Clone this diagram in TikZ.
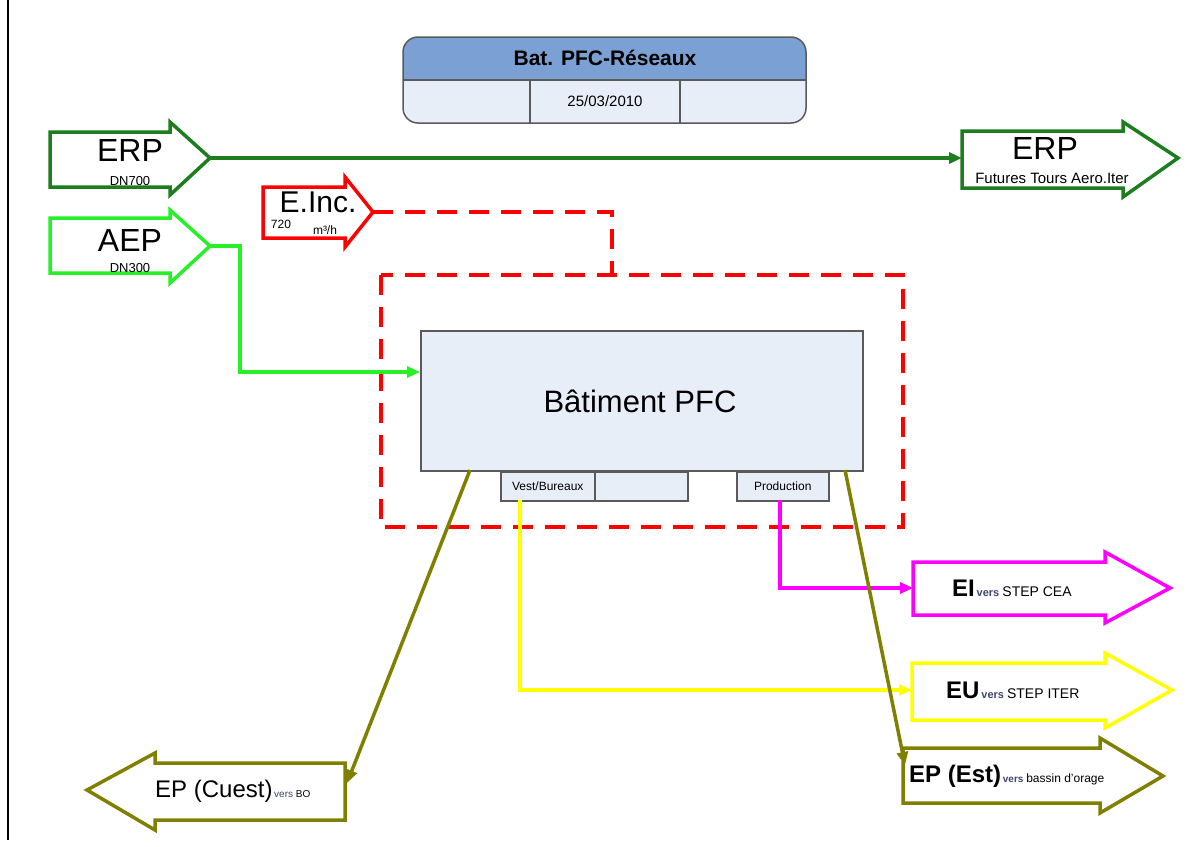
\documentclass[tikz,border=0pt]{standalone}
\usepackage{fontspec}
\setmainfont{Liberation Sans}
\usetikzlibrary{arrows.meta}
\definecolor{dkgreen}{RGB}{30,125,30}
\definecolor{ltgreen}{RGB}{40,240,40}
\definecolor{olive}{RGB}{128,128,0}
\definecolor{pmagenta}{RGB}{255,0,255}
\definecolor{pyellow}{RGB}{255,255,0}
\definecolor{pred}{RGB}{255,0,0}
\definecolor{hdrblue}{RGB}{123,160,212}
\definecolor{ltfill}{RGB}{232,238,248}
\definecolor{bordergray}{RGB}{90,90,90}
\definecolor{versblue}{RGB}{60,70,110}
\newcommand{\fs}[1]{\fontsize{#1}{#1}\selectfont}
\begin{document}
\begin{tikzpicture}[x=1pt,y=-1pt,
  outline/.style={line width=3.5pt,line join=miter,fill=white,draw=#1},
  conn/.style={line width=3.5pt,draw=#1,-{Triangle[length=13pt,width=11pt,fill=#1]}},
  txt/.style={inner sep=0pt,text=black},
  boxed/.style={draw=bordergray,fill=ltfill,line width=1.5pt}]
\useasboundingbox (0,0) rectangle (1190,846);
\fill[white] (0,0) rectangle (1190,846);
% left margin line
\draw[line width=1.5pt] (8,0) -- (8,840);

% title block
\fill[ltfill,rounded corners=15pt] (403,37) rectangle (806,123);
\fill[hdrblue] (403,80) [rounded corners=15pt] -- (403,37) -- (806,37) [sharp corners] -- (806,80) -- cycle;
\draw[bordergray,line width=1.5pt,rounded corners=15pt] (403,37) rectangle (806,123);
\draw[bordergray,line width=1.5pt] (403,80) -- (806,80) (530,80) -- (530,123) (680,80) -- (680,123);
\node[txt] (title) at (605,58) {\fs{21}\bfseries Bat. PFC-Réseaux};
\node[txt] (date) at (605,101) {\fs{15}25/03/2010};

% dashed perimeter
\draw[pred,line width=3.5pt,dash pattern=on 20pt off 12pt] (381,275) rectangle (903,527);

% building
\node[boxed,minimum width=442pt,minimum height=140pt,anchor=north west,inner sep=0pt] (bat) at (420,330) {};
\node[txt] (battxt) at (640,401) {\fs{31}Bâtiment PFC};
\node[boxed,minimum width=94pt,minimum height=29pt,anchor=north west,inner sep=0pt] (vest) at (500,471) {};
\node[txt] at (vest.center) {\fs{12}Vest/Bureaux};
\node[boxed,minimum width=93pt,minimum height=29pt,anchor=north west,inner sep=0pt] (vest2) at (594,471) {};
\node[boxed,minimum width=92pt,minimum height=29pt,anchor=north west,inner sep=0pt] (prod) at (736,471) {};
\node[txt] at (prod.center) {\fs{12}Production};

% ERP left
\draw[outline=dkgreen] (50,132)--(170,132)--(170,122)--(210,158)--(170,195)--(170,187)--(50,187)--cycle;
\coordinate (erpLtip) at (210,158);
\node[txt] (erpL) at (130,150) {\fs{32}ERP};
\node[txt] (dn700) at (130,181) {\fs{13}DN700};

% ERP right
\draw[outline=dkgreen] (962,131)--(1123,131)--(1123,122)--(1178,158)--(1123,197)--(1123,188)--(962,188)--cycle;
\coordinate (erpRin) at (962,158);
\node[txt] (erpR) at (1045,148) {\fs{32}ERP};
\node[txt] (futures) at (1052,178) {\fs{15}Futures Tours Aero.Iter};

% AEP
\draw[outline=ltgreen] (50,218)--(170,218)--(170,210)--(210,246)--(170,283)--(170,273)--(50,273)--cycle;
\coordinate (aepTip) at (210,246);
\node[txt] (aep) at (130,240) {\fs{32}AEP};
\node[txt] (dn300) at (130,268) {\fs{13}DN300};

% E.Inc
\draw[outline=pred] (263,187)--(345,187)--(345,177)--(373,212)--(345,247)--(345,238)--(263,238)--cycle;
\coordinate (eincTip) at (373,212);
\node[txt] (einc) at (318,202) {\fs{30}E.Inc.};
\node[txt] (q720) at (281,224) {\fs{12}720};
\node[txt] (m3h) at (325,230) {\fs{12}m³/h};

% EI
\draw[outline=pmagenta] (913,562)--(1105,562)--(1105,552)--(1170,588)--(1105,623)--(1105,615)--(913,615)--cycle;
\coordinate (eiIn) at (913,588);
\node[txt,anchor=west] (ei) at (952,588) {\fs{24}\bfseries EI\fs{11}\,\color{versblue}vers \color{black}\mdseries\fs{14}STEP CEA};

% EU
\draw[outline=pyellow] (912,663)--(1105,663)--(1105,653)--(1172,690)--(1105,728)--(1105,720)--(912,720)--cycle;
\coordinate (euIn) at (912,690);
\node[txt,anchor=west] (eu) at (946,690) {\fs{24}\bfseries EU\fs{11}\,\color{versblue}vers \color{black}\mdseries\fs{14}STEP ITER};

% EP Est
\draw[outline=olive] (903,748)--(1100,748)--(1100,738)--(1163,776)--(1100,813)--(1100,803)--(903,803)--cycle;
\coordinate (epEin) at (905,765);
\node[txt,anchor=west] (epe) at (909,776) {\fs{24}\bfseries EP (Est)\fs{10}\,\color{versblue}vers \color{black}\mdseries\fs{12}bassin d'orage};

% EP Ouest
\draw[outline=olive] (345,763)--(155,763)--(155,753)--(87,790)--(155,830)--(155,820)--(345,820)--cycle;
\coordinate (epOin) at (347,783);
\node[txt,anchor=west] (epo) at (155,791) {\fs{24}EP (Cuest)\fs{10}\,\color{versblue}vers \color{black}\fs{10}BO};

% connectors
\draw[conn=dkgreen] (erpLtip) -- (erpRin);
\coordinate (batIn) at (420,372);
\draw[conn=ltgreen] (aepTip) -- (240,246) |- (batIn);
\draw[pred,line width=3.5pt,dash pattern=on 20pt off 12pt] (eincTip) -- (612,212) -- (612,275);
\coordinate (vestOut) at (520,500);
\coordinate (prodOut) at (780,500);
\draw[conn=pyellow] (vestOut) |- (euIn);
\draw[conn=pmagenta] (prodOut) |- (eiIn);
\coordinate (batOutL) at (470,470);
\coordinate (batOutR) at (845,470);
\draw[conn=olive] (batOutL) -- (epOin);
\draw[conn=olive] (batOutR) -- (epEin);
\end{tikzpicture}
\end{document}
